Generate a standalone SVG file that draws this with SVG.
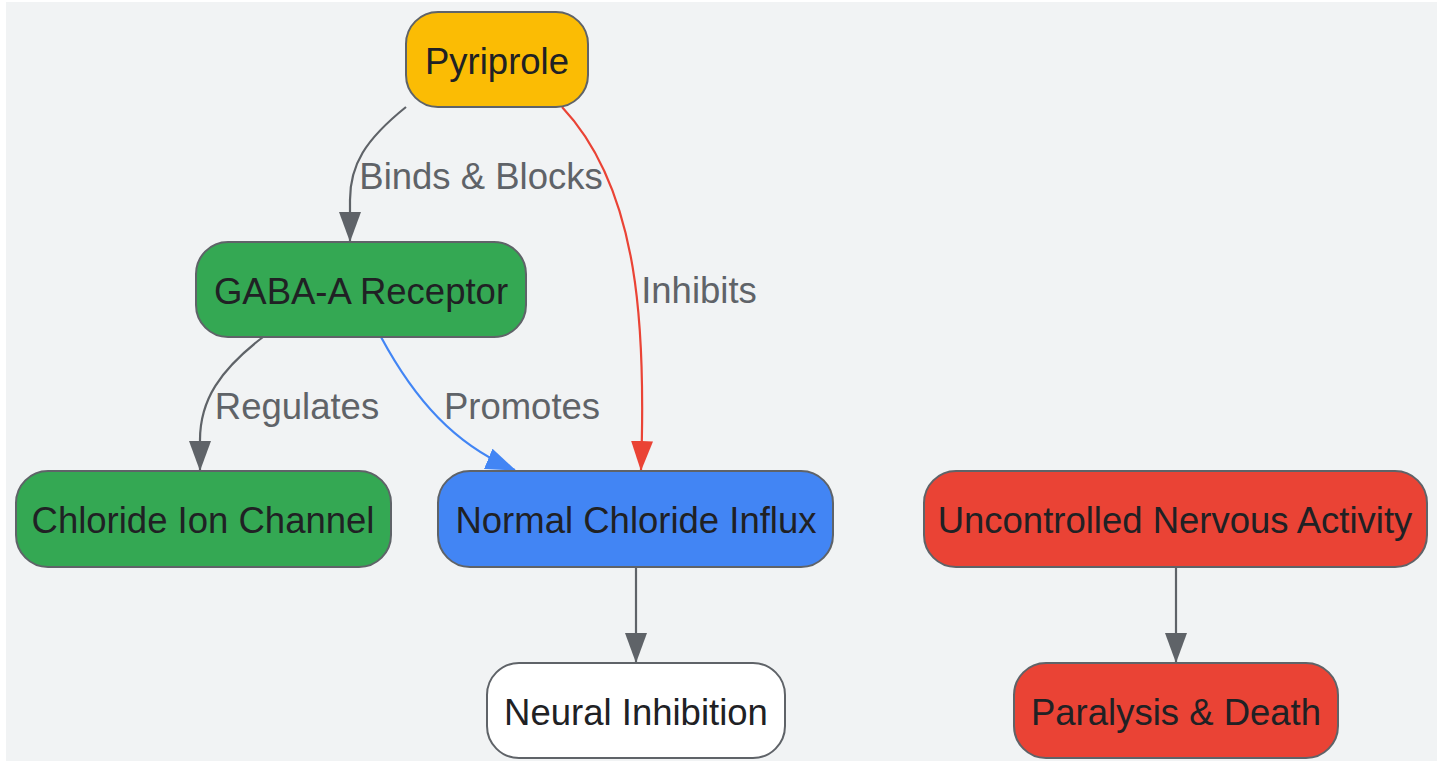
<svg xmlns="http://www.w3.org/2000/svg" width="1443" height="763" viewBox="0 0 1443 763">
  <style>
    .node rect { stroke: #5f6368; stroke-width: 2; }
    .node text { font-family: "Liberation Sans", Arial, sans-serif; font-size: 36.5px; fill: #202124; text-anchor: middle; }
    .edge { fill: none; stroke-width: 2.2; }
    .gray { stroke: #5f6368; }
    .red { stroke: #ea4335; }
    .blue { stroke: #4285f4; }
    .lbl { font-family: "Liberation Sans", Arial, sans-serif; font-size: 36.5px; fill: #5f6368; text-anchor: middle; }
  </style>
  <defs>
    <marker id="ahGray" markerUnits="userSpaceOnUse" markerWidth="30" markerHeight="22" viewBox="0 0 30 22" refX="29" refY="11" orient="auto">
      <path d="M0,0 L30,11 L0,22 z" fill="#5f6368"/>
    </marker>
    <marker id="ahRed" markerUnits="userSpaceOnUse" markerWidth="30" markerHeight="22" viewBox="0 0 30 22" refX="29" refY="11" orient="auto">
      <path d="M0,0 L30,11 L0,22 z" fill="#ea4335"/>
    </marker>
    <marker id="ahBlue" markerUnits="userSpaceOnUse" markerWidth="30" markerHeight="22" viewBox="0 0 30 22" refX="29" refY="11" orient="auto">
      <path d="M0,0 L30,11 L0,22 z" fill="#4285f4"/>
    </marker>
  </defs>
  <rect x="6" y="2" width="1431" height="759" fill="#f1f3f4"/>

  <g id="connectors">
    <path class="edge gray" d="M406,107 C365,140 350,165 350,200 L350,241" marker-end="url(#ahGray)"/>
    <path class="edge red" d="M562,107 C640,190 646,330 641,470" marker-end="url(#ahRed)"/>
    <path class="edge gray" d="M263,337 C220,370 200,400 200,440 L200,470" marker-end="url(#ahGray)"/>
    <path class="edge blue" d="M381,337 C415,400 455,445 515,470" marker-end="url(#ahBlue)"/>
    <path class="edge gray" d="M636,567 L636,662" marker-end="url(#ahGray)"/>
    <path class="edge gray" d="M1176,567 L1176,662" marker-end="url(#ahGray)"/>
    <text class="lbl" x="481" y="189">Binds &amp; Blocks</text>
    <text class="lbl" x="699" y="303">Inhibits</text>
    <text class="lbl" x="297" y="419">Regulates</text>
    <text class="lbl" x="522" y="419">Promotes</text>
  </g>

  <g id="pyriprole" class="node">
    <rect x="406" y="12" width="182" height="95" rx="32" fill="#fbbc04"/>
    <text x="497" y="74">Pyriprole</text>
  </g>
  <g id="gaba" class="node">
    <rect x="196" y="242" width="330" height="95" rx="32" fill="#34a853"/>
    <text x="361" y="304">GABA-A Receptor</text>
  </g>
  <g id="chloride-channel" class="node">
    <rect x="16" y="471" width="375" height="96" rx="32" fill="#34a853"/>
    <text x="203" y="533">Chloride Ion Channel</text>
  </g>
  <g id="chloride-influx" class="node">
    <rect x="438" y="471" width="395" height="96" rx="32" fill="#4285f4"/>
    <text x="636" y="533">Normal Chloride Influx</text>
  </g>
  <g id="uncontrolled" class="node">
    <rect x="924" y="471" width="503" height="96" rx="32" fill="#ea4335"/>
    <text x="1175" y="533">Uncontrolled Nervous Activity</text>
  </g>
  <g id="neural-inhibition" class="node">
    <rect x="487" y="663" width="298" height="95" rx="32" fill="#ffffff"/>
    <text x="636" y="725">Neural Inhibition</text>
  </g>
  <g id="paralysis" class="node">
    <rect x="1014" y="663" width="324" height="95" rx="32" fill="#ea4335"/>
    <text x="1176" y="725">Paralysis &amp; Death</text>
  </g>
</svg>
